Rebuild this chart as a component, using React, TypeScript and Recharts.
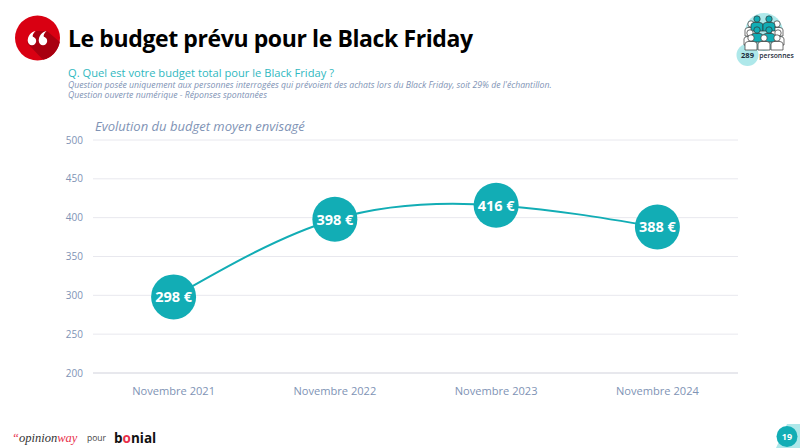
import { CartesianGrid, Line, LineChart, XAxis, YAxis } from "recharts";

const years = ["Novembre 2021", "Novembre 2022", "Novembre 2023", "Novembre 2024"];
const budget = [298, 398, 416, 388];
const yTicks = [200, 250, 300, 350, 400, 450, 500];

const chartData = years.map((year, i) => ({ year, budget: budget[i] }));

const TEAL = "#12adb5";
const SLATE = "#8093b5";
const FONT = "'Open Sans', 'Noto Sans', sans-serif";

function BudgetDot(props: any) {
  const { cx, cy, value } = props;
  return (
    <g>
      <circle cx={cx} cy={cy} r={22.5} fill={TEAL} />
      <text x={cx} y={cy + 5.5} textAnchor="middle" fill="#fff" fontFamily={FONT} fontWeight={700} fontSize={14.5}>
        {value} €
      </text>
    </g>
  );
}

function Person({ x, y, fill }: { x: number; y: number; fill: string }) {
  return (
    <g stroke="#333" strokeWidth={0.7} fill={fill}>
      <circle cx={x} cy={y} r={3.2} />
      <path d={`M${x - 6} ${y + 12} v-6 q0 -2 3 -2.5 h6 q3 0.5 3 2.5 v6 z`} />
    </g>
  );
}

function QuoteMark({ x }: { x: number }) {
  return (
    <g fill="#fff">
      <circle cx={x} cy={41} r={4.2} />
      <path d={`M${x - 4.2} 41 C${x - 4.5} 36 ${x - 1} 32 ${x + 3.5} 31 C${x + 1} 33 ${x} 36 ${x + 1} 37 Z`} />
    </g>
  );
}

function Decorations() {
  return (
    <svg width={800} height={448} style={{ position: "absolute", left: 0, top: 0 }}>
      {/* quote badge */}
      <circle cx={37.5} cy={38} r={22.5} fill="#d90012" />
      <path d="M27 43 L36 31 L47 31 L59.8 42 A22.5 22.5 0 0 1 43 59.8 Z" fill="#a80010" />
      <QuoteMark x={32} />
      <QuoteMark x={43} />

      {/* sample badge */}
      <circle cx={764} cy={32} r={19} fill="#aee8ea" />
      <circle cx={747.5} cy={55} r={11} fill="#aee8ea" />
      <Person x={751} y={24} fill="#fff" />
      <Person x={777} y={24} fill="#fff" />
      <Person x={757} y={19} fill={TEAL} />
      <Person x={769} y={19} fill={TEAL} />
      <Person x={750} y={33} fill="#fff" />
      <Person x={778} y={33} fill="#fff" />
      <Person x={757} y={30} fill={TEAL} />
      <Person x={769} y={30} fill={TEAL} />
      <Person x={751} y={38} fill="#fff" />
      <Person x={764} y={38} fill="#fff" />
      <Person x={777} y={38} fill="#fff" />
      <text x={747.5} y={57.5} textAnchor="middle" fill="#1c2b3a" fontFamily={FONT} fontWeight={700} fontSize={7.5}>
        289
      </text>
      <text x={776.5} y={57.5} textAnchor="middle" fill="#1c2b3a" fontFamily={FONT} fontWeight={600} fontSize={6.8}>
        personnes
      </text>

      {/* page number */}
      <path d="M787 424 H800 V448 H776 Z" fill="#aee8ea" />
      <circle cx={787} cy={436.5} r={10.5} fill={TEAL} />
      <text x={787} y={440} textAnchor="middle" fill="#fff" fontFamily={FONT} fontWeight={700} fontSize={9}>
        19
      </text>
    </svg>
  );
}

function Texts() {
  const base: React.CSSProperties = { position: "absolute", whiteSpace: "nowrap", fontFamily: FONT };
  return (
    <>
      <div style={{ ...base, left: 68, top: 20, fontSize: 23, letterSpacing: -0.4, fontWeight: 700, color: "#000", lineHeight: "36px" }}>
        Le budget prévu pour le Black Friday
      </div>
      <div style={{ ...base, left: 68, top: 66, fontSize: 11.15, color: "#2fb8c0", lineHeight: "13px" }}>
        Q. Quel est votre budget total pour le Black Friday ?
      </div>
      <div style={{ ...base, left: 68, top: 79.5, fontSize: 8.7, fontStyle: "italic", color: SLATE, lineHeight: "10.5px" }}>
        Question posée uniquement aux personnes interrogées qui prévoient des achats lors du Black Friday, soit 29% de l'échantillon.
        <br />
        Question ouverte numérique - Réponses spontanées
      </div>
      <div style={{ ...base, left: 95, top: 116, fontSize: 13, fontStyle: "italic", color: SLATE, lineHeight: "20px" }}>
        Evolution du budget moyen envisagé
      </div>
      <div style={{ ...base, left: 12, top: 430, fontFamily: "'Liberation Serif', serif", fontStyle: "italic", fontSize: 12.5, lineHeight: "16px", color: "#333" }}>
        <span style={{ color: "#e8304a" }}>“</span>opinion<span style={{ color: "#e8304a" }}>way</span>
      </div>
      <div style={{ ...base, left: 87, top: 431, fontSize: 8.5, color: "#444", lineHeight: "14px" }}>pour</div>
      <div style={{ ...base, left: 114, top: 428, fontSize: 13.5, fontWeight: 700, color: "#111", lineHeight: "20px" }}>
        b<span style={{ color: "#e8304a" }}>o</span>nial
      </div>
    </>
  );
}

export default function App() {
  return (
    <div style={{ position: "absolute", left: 0, top: 0, width: 800, height: 448, background: "#fff", overflow: "hidden" }}>
      <div style={{ position: "absolute", left: 0, top: 0 }}>
        <LineChart width={800} height={448} data={chartData} margin={{ top: 140, right: 62, bottom: 0, left: 58 }}>
          <CartesianGrid horizontal vertical={false} stroke="#e8e8ee" />
          <XAxis
            dataKey="year"
            height={75}
            padding={{ left: 80.6, right: 80.6 }}
            tickLine={false}
            axisLine={{ stroke: "#dcdde3" }}
            tick={{ fill: SLATE, fontSize: 11.1, fontFamily: FONT }}
            tickMargin={8}
            interval={0}
          />
          <YAxis
            width={35}
            domain={[200, 500]}
            ticks={yTicks}
            tickLine={false}
            axisLine={false}
            tick={{ fill: SLATE, fontSize: 10, fontFamily: FONT }}
            tickMargin={4}
          />
          <Line
            dataKey="budget"
            type="natural"
            stroke={TEAL}
            strokeWidth={2}
            dot={<BudgetDot />}
            activeDot={false}
            isAnimationActive={false}
          />
        </LineChart>
      </div>
      <Decorations />
      <Texts />
    </div>
  );
}
